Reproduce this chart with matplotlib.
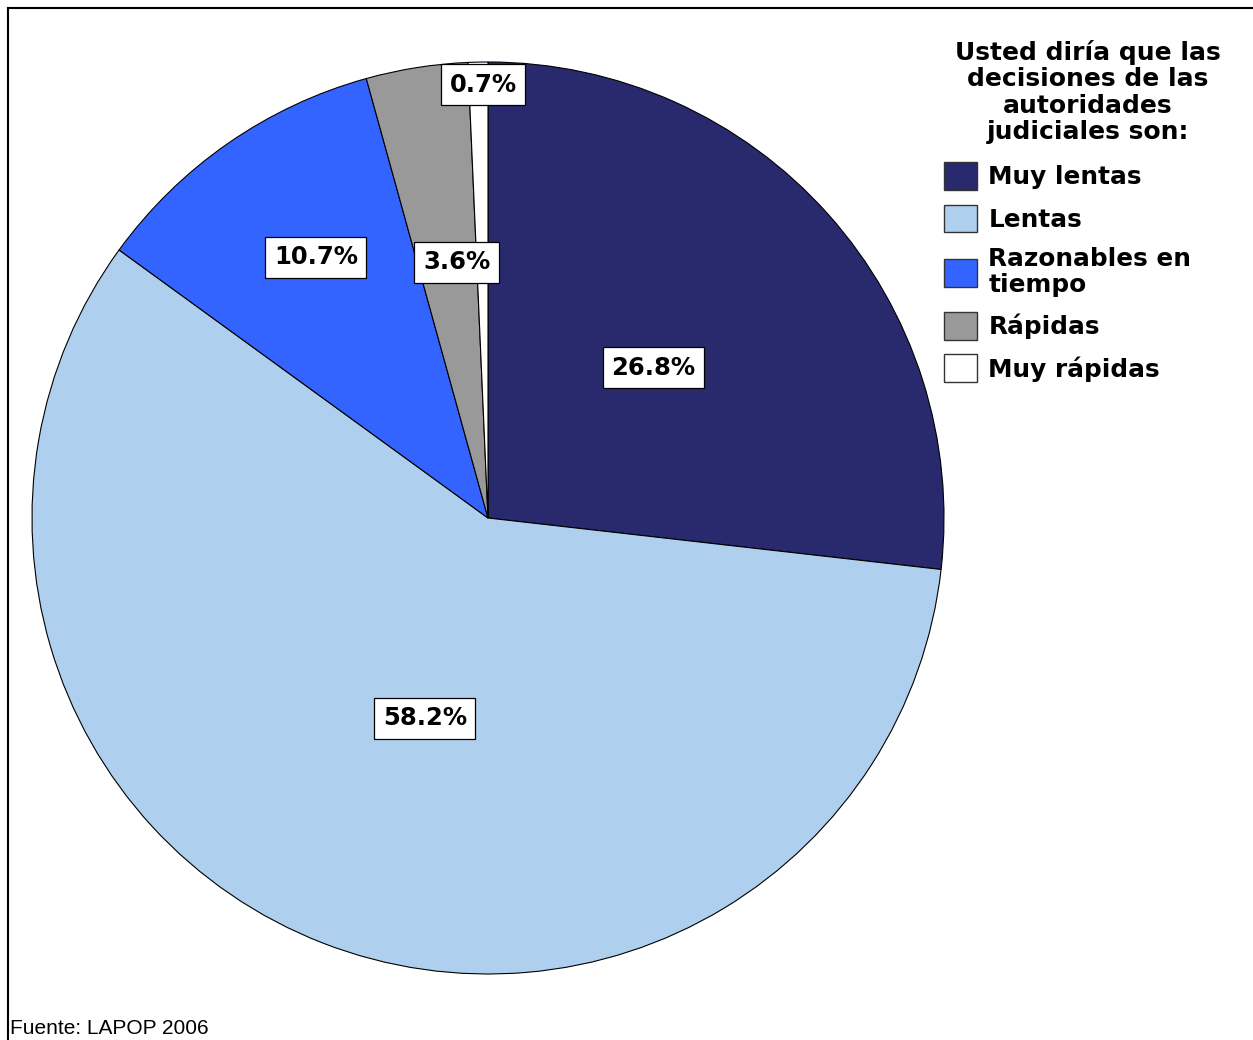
import matplotlib.pyplot as plt
from matplotlib.patches import Patch
import numpy as np

# datos
categorias = ['Muy lentas', 'Lentas', 'Razonables en\ntiempo', 'Rápidas', 'Muy rápidas']
porcentajes = [26.8, 58.2, 10.7, 3.6, 0.7]
etiquetas = ['26.8%', '58.2%', '10.7%', '3.6%', '0.7%']
colores = ['#29296e', '#afcfee', '#3464ff', '#999999', '#ffffff']
# posicion de las etiquetas: fraccion del radio y desvio angular (grados)
dist_etiq = [0.49, 0.46, 0.685, 0.565, 0.95]
desvio_etiq = [0.5, 3.7, -1.3, -2.0, -0.6]

titulo_leyenda = 'Usted diría que las\ndecisiones de las\nautoridades\njudiciales son:'
fuente = 'Fuente: LAPOP 2006'

W, H = 1253, 1040
fig = plt.figure(figsize=(W / 100, H / 100), dpi=100)
ax = fig.add_axes([0, 0, 1, 1])

cx, cy, r = 488, H - 518, 456
wedges, _ = ax.pie(porcentajes, colors=colores, startangle=90, counterclock=False,
                   center=(cx, cy), radius=r, frame=True,
                   wedgeprops=dict(edgecolor='black', linewidth=0.8))
ax.set_xlim(0, W)
ax.set_ylim(0, H)
ax.set_aspect('equal')
ax.axis('off')

# etiquetas con caja
for w, txt, d, dv in zip(wedges, etiquetas, dist_etiq, desvio_etiq):
    ang = np.deg2rad((w.theta1 + w.theta2) / 2 + dv)
    x = cx + d * r * np.cos(ang)
    y = cy + d * r * np.sin(ang)
    ax.text(x, y, txt, ha='center', va='center', fontsize=17.5, fontweight='bold',
            family='DejaVu Sans',
            bbox=dict(boxstyle='square,pad=0.35', facecolor='white', edgecolor='black', linewidth=0.9))

# marco
ax.plot([8, 8], [0, H - 8], color='black', lw=1.5)
ax.plot([8, W], [H - 8, H - 8], color='black', lw=1.5)

# leyenda
fig.text(1088 / W, 1 - 40 / H, titulo_leyenda, ha='center', va='top', fontsize=18,
         fontweight='bold', family='DejaVu Sans', linespacing=1.12, multialignment='center')

handles = [Patch(facecolor=c, edgecolor='#333333', linewidth=1.0) for c in colores]
leg = fig.legend(handles, categorias, loc='upper left', bbox_to_anchor=(944 / W, 1 - 162 / H),
                 frameon=False,
                 prop=dict(family='DejaVu Sans', weight='bold', size=17.8),
                 handlelength=1.35, handleheight=1.35, handletextpad=0.45, labelspacing=0.6,
                 borderaxespad=0, borderpad=0)
for t in leg.get_texts():
    t.set_linespacing(1.1)

fig.text(10 / W, 1 - 1028 / H, fuente, ha='left', va='center', fontsize=15,
         family='Liberation Sans')

fig.savefig('out.png', dpi=100)
